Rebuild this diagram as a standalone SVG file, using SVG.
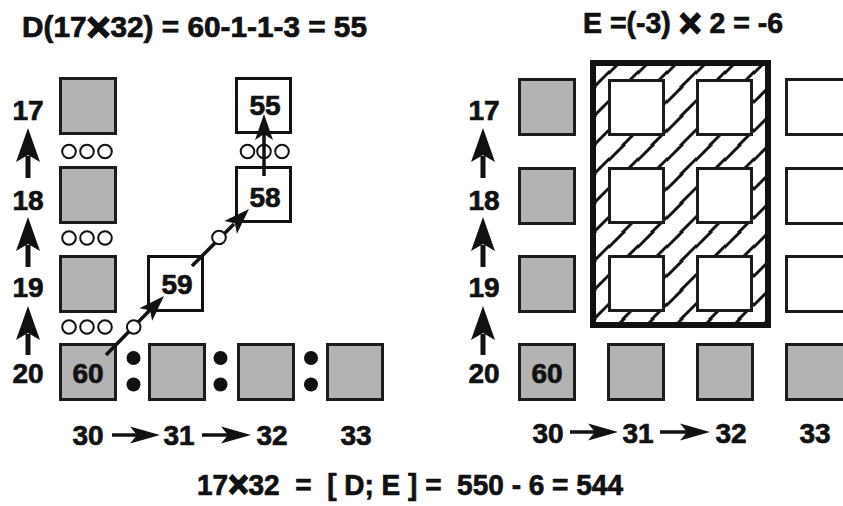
<svg xmlns="http://www.w3.org/2000/svg" width="843" height="506" viewBox="0 0 843 506">
  <style>
    text { font-family: "Liberation Sans", Arial, sans-serif; font-weight: bold; fill: #111; stroke: #111; stroke-width: 0.7px; white-space: pre; }
    .lbl { font-size: 28px; text-anchor: middle; }
    .ttl { font-size: 29px; }
    .x { font-size: 40px; stroke-width: 1.6px; }
    .xs { font-size: 36px; stroke-width: 1.8px; }
    .cell { fill: #b3b3b3; stroke: #1c1c1c; stroke-width: 3; }
    .open { fill: #fff; stroke: #1c1c1c; stroke-width: 3; }
    .box { fill: #fff; stroke: #111; stroke-width: 3; }
    .ring { fill: #fff; stroke: #111; stroke-width: 2; }
    .dot { fill: #111; }
    .stem { stroke: #111; stroke-width: 5; fill: none; }
    .thin { stroke: #111; stroke-width: 3.5; fill: none; }
    .head { fill: #111; }
  </style>
  <defs>
    <!-- arrowheads, tip at the origin -->
    <path id="hHead" d="M-30,-8.5 L0,0 L-30,8.5 L-23,0 Z"/>
    <path id="vHead" d="M-12,34 L0,0 L12,34 L0,27 Z"/>
    <path id="sHead" d="M-9,26 L0,0 L9,26 L0,20 Z"/>
    <pattern id="hatch" patternUnits="userSpaceOnUse" width="29" height="29">
      <path d="M-2,17 L17,-2 M12,31 L31,12" stroke="#111" stroke-width="3"/>
    </pattern>
  </defs>

  <!-- headings -->
  <text class="ttl" x="22" y="37" textLength="345" lengthAdjust="spacingAndGlyphs">D(17<tspan class="x" dy="4">×</tspan><tspan dy="-4">32) = 60-1-1-3 = 55</tspan></text>
  <text class="ttl" x="583" y="33" textLength="200" lengthAdjust="spacingAndGlyphs">E =(-3) <tspan class="x" dy="4">×</tspan><tspan dy="-4"> 2 = -6</tspan></text>
  <text class="ttl" x="197" y="495" textLength="426" lengthAdjust="spacingAndGlyphs">17<tspan class="xs" dy="2">×</tspan><tspan dy="-2">32  =  [ D; E ] =  550 - 6 = 544</tspan></text>

  <!-- left panel: row and column indices -->
  <g id="left-axis">
    <text class="lbl" x="28" y="120">17</text>
    <text class="lbl" x="28" y="210">18</text>
    <text class="lbl" x="28" y="297">19</text>
    <text class="lbl" x="28" y="383">20</text>
    <text class="lbl" x="88" y="445">30</text>
    <text class="lbl" x="179" y="445">31</text>
    <text class="lbl" x="272" y="445">32</text>
    <text class="lbl" x="356" y="445">33</text>
  </g>

  <!-- left panel: cells -->
  <g id="L-17-30"><rect class="cell" x="60.5" y="78.5" width="55" height="55"/></g>
  <g id="L-18-30"><rect class="cell" x="60.5" y="167.5" width="55" height="55"/></g>
  <g id="L-19-30"><rect class="cell" x="60.5" y="256.5" width="55" height="55"/></g>
  <g id="L-20-30"><rect class="cell" x="60.5" y="344.5" width="55" height="55"/><text class="lbl" x="88" y="383">60</text></g>
  <g id="L-20-31"><rect class="cell" x="149.5" y="344.5" width="55" height="55"/></g>
  <g id="L-20-32"><rect class="cell" x="238.5" y="344.5" width="55" height="55"/></g>
  <g id="L-20-33"><rect class="cell" x="327.5" y="344.5" width="55" height="55"/></g>
  <g id="L-59"><rect class="box" x="148.5" y="256.5" width="54" height="54"/><text class="lbl" x="177" y="294">59</text></g>
  <g id="L-58"><rect class="box" x="236.5" y="167.5" width="54" height="54"/><text class="lbl" x="265" y="207">58</text></g>
  <g id="L-55"><rect class="box" x="236.5" y="78.5" width="54" height="54"/><text class="lbl" x="265" y="115">55</text></g>

  <!-- left panel: small rings and dots between cells -->
  <g id="left-marks">
    <circle class="ring" cx="69" cy="151.5" r="6.8"/><circle class="ring" cx="87" cy="151.5" r="6.8"/><circle class="ring" cx="105" cy="151.5" r="6.8"/>
    <circle class="ring" cx="69" cy="238" r="6.8"/><circle class="ring" cx="87" cy="238" r="6.8"/><circle class="ring" cx="105" cy="238" r="6.8"/>
    <circle class="ring" cx="69" cy="327" r="6.8"/><circle class="ring" cx="87" cy="327" r="6.8"/><circle class="ring" cx="105" cy="327" r="6.8"/>
    <circle class="ring" cx="247.5" cy="151.5" r="6.8"/><circle class="ring" cx="264" cy="151.5" r="6.8"/><circle class="ring" cx="282" cy="151.5" r="6.8"/>
    <circle class="dot" cx="133.5" cy="358" r="7"/><circle class="dot" cx="133.5" cy="384.5" r="7"/>
    <circle class="dot" cx="220.5" cy="358" r="7"/><circle class="dot" cx="220.5" cy="384.5" r="7"/>
    <circle class="dot" cx="311" cy="358" r="7"/><circle class="dot" cx="311" cy="384.5" r="7"/>
  </g>

  <!-- right panel: row and column indices -->
  <g id="right-axis">
    <text class="lbl" x="484" y="120">17</text>
    <text class="lbl" x="484" y="210">18</text>
    <text class="lbl" x="484" y="297">19</text>
    <text class="lbl" x="484" y="383">20</text>
    <text class="lbl" x="548" y="443">30</text>
    <text class="lbl" x="638" y="443">31</text>
    <text class="lbl" x="731" y="443">32</text>
    <text class="lbl" x="815" y="443">33</text>
  </g>

  <!-- right panel: hatched block -->
  <g id="R-block">
    <rect x="593" y="63" width="175" height="262" fill="#fff"/>
    <rect x="593" y="63" width="175" height="262" fill="url(#hatch)"/>
    <rect class="open" x="609.5" y="80.5" width="54" height="54"/>
    <rect class="open" x="697.5" y="80.5" width="54" height="54"/>
    <rect class="open" x="609.5" y="168.5" width="54" height="54"/>
    <rect class="open" x="697.5" y="168.5" width="54" height="54"/>
    <rect class="open" x="609.5" y="256.5" width="54" height="54"/>
    <rect class="open" x="697.5" y="256.5" width="54" height="54"/>
    <rect x="593" y="63" width="175" height="262" fill="none" stroke="#111" stroke-width="6"/>
  </g>

  <!-- right panel: cells -->
  <g id="R-17-30"><rect class="cell" x="519.5" y="79.5" width="55" height="55"/></g>
  <g id="R-18-30"><rect class="cell" x="519.5" y="168.5" width="55" height="55"/></g>
  <g id="R-19-30"><rect class="cell" x="519.5" y="256.5" width="55" height="55"/></g>
  <g id="R-20-30"><rect class="cell" x="519.5" y="344.5" width="55" height="55"/><text class="lbl" x="547" y="383">60</text></g>
  <g id="R-20-31"><rect class="cell" x="608.5" y="344.5" width="55" height="55"/></g>
  <g id="R-20-32"><rect class="cell" x="697.5" y="344.5" width="55" height="55"/></g>
  <g id="R-20-33"><rect class="cell" x="786.5" y="344.5" width="58" height="55"/></g>
  <g id="R-17-33"><rect class="open" x="786.5" y="79.5" width="58" height="55"/></g>
  <g id="R-18-33"><rect class="open" x="786.5" y="168.5" width="58" height="55"/></g>
  <g id="R-19-33"><rect class="open" x="786.5" y="256.5" width="58" height="55"/></g>

  <!-- connectors -->
  <g id="connectors">
    <!-- row index arrows -->
    <line class="stem" x1="28" y1="178" x2="28" y2="156"/><use href="#vHead" class="head" x="28" y="128"/>
    <line class="stem" x1="28" y1="267" x2="28" y2="245"/><use href="#vHead" class="head" x="28" y="217"/>
    <line class="stem" x1="28" y1="355" x2="28" y2="334"/><use href="#vHead" class="head" x="28" y="306"/>
    <line class="stem" x1="483" y1="178" x2="483" y2="156"/><use href="#vHead" class="head" x="483" y="128"/>
    <line class="stem" x1="483" y1="267" x2="483" y2="245"/><use href="#vHead" class="head" x="483" y="217"/>
    <line class="stem" x1="483" y1="355" x2="483" y2="334"/><use href="#vHead" class="head" x="483" y="306"/>
    <!-- column index arrows -->
    <line class="thin" x1="112" y1="435" x2="137" y2="435"/><use href="#hHead" class="head" x="160" y="435"/>
    <line class="thin" x1="202" y1="435" x2="228" y2="435"/><use href="#hHead" class="head" x="251" y="435"/>
    <line class="thin" x1="570" y1="432" x2="595" y2="432"/><use href="#hHead" class="head" x="618" y="432"/>
    <line class="thin" x1="660" y1="432" x2="687" y2="432"/><use href="#hHead" class="head" x="710" y="432"/>
    <!-- path 60 -> 59 -> 58 -> 55 -->
    <line class="thin" x1="106" y1="355" x2="149" y2="311"/>
    <use href="#sHead" class="head" transform="translate(164,296) rotate(44.5)"/>
    <circle class="ring" cx="133.7" cy="327" r="6.8"/>
    <line class="thin" x1="192" y1="266" x2="234" y2="224"/>
    <use href="#sHead" class="head" transform="translate(249,209) rotate(45)"/>
    <circle class="ring" cx="219" cy="237.5" r="6.8"/>
    <line class="thin" x1="264" y1="176" x2="264" y2="134"/>
    <use href="#sHead" class="head" x="264" y="114"/>
  </g>
</svg>
